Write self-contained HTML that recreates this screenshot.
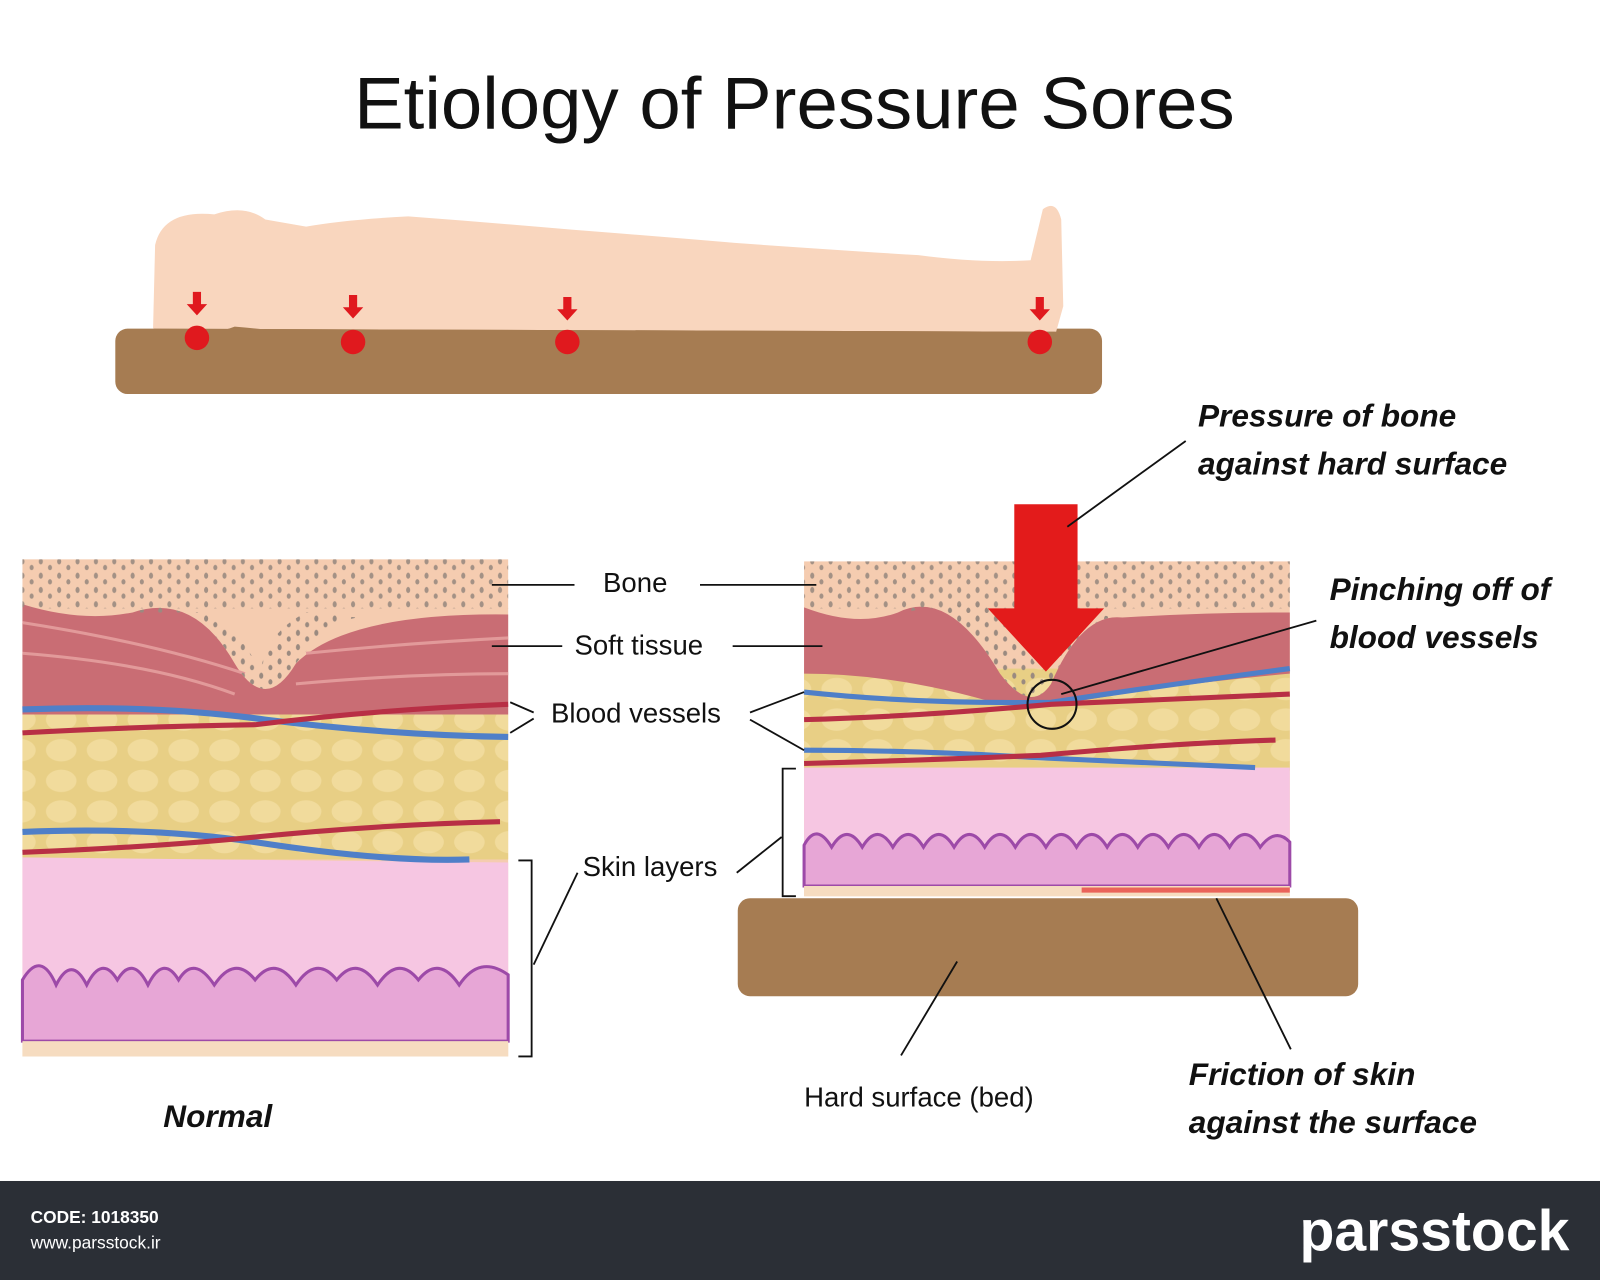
<!DOCTYPE html>
<html><head><meta charset="utf-8"><style>
html,body{margin:0;padding:0;background:#fff;}
svg{display:block;}
text{font-family:"Liberation Sans",sans-serif;}
</style></head><body>
<svg width="1600" height="1280" viewBox="0 0 1568 1254" preserveAspectRatio="none" xmlns="http://www.w3.org/2000/svg">
<defs>
<pattern id="dots" width="18" height="14" patternUnits="userSpaceOnUse">
<ellipse cx="4" cy="4" rx="2" ry="3" fill="#9a8a80"/><ellipse cx="13" cy="10" rx="2" ry="2.6" fill="#9a8a80"/>
</pattern>
<pattern id="fat" width="40" height="30" patternUnits="userSpaceOnUse">
<rect width="40" height="30" fill="#e8cf85"/><ellipse cx="20" cy="15" rx="15" ry="11" fill="#f1db9c"/>
</pattern>
</defs>
<rect width="1568" height="1254" fill="#fff"/>
<text x="347" y="126" font-size="72" textLength="863" lengthAdjust="spacingAndGlyphs" fill="#111">Etiology of Pressure Sores</text>

<!-- top figure -->
<rect x="113" y="322" width="967" height="64" rx="12" fill="#a67c52"/>
<path d="M150,322 L152,240 Q160,205 210,210 Q240,200 260,215 L300,222 Q340,215 400,212 Q480,218 560,225 Q650,232 720,238 Q820,245 900,250 Q960,258 1010,255 L1022,205 Q1035,195 1040,215 L1042,300 L1035,325 Z" fill="#f9d6be"/>
<path d="M150,322 Q190,335 230,320 Q300,326 346,335 Q450,322 556,335 Q800,320 1019,330 L1035,325 L150,322Z" fill="#a67c52"/>
<g fill="#e0191e">
<circle cx="193" cy="331" r="12"/><circle cx="346" cy="335" r="12"/><circle cx="556" cy="335" r="12"/><circle cx="1019" cy="335" r="12"/>
<path d="M189,286h8v12h6l-10,11-10-11h6z"/><path d="M342,289h8v12h6l-10,11-10-11h6z"/><path d="M552,291h8v12h6l-10,11-10-11h6z"/><path d="M1015,291h8v12h6l-10,11-10-11h6z"/>
</g>

<!-- left panel -->
<g>
<rect x="22" y="548" width="476" height="487" fill="#f5ccb0"/>
<rect x="22" y="700" width="476" height="142" fill="url(#fat)"/>
<path d="M22,592 Q80,610 130,600 Q190,580 230,650 Q260,700 290,650 Q340,600 498,602 L498,700 L22,700Z" fill="#c96d74"/>
<path d="M22,610 Q150,630 240,660 M22,640 Q150,650 230,680 M300,640 Q400,630 498,625 M290,670 Q400,660 498,660" stroke="#e29a9a" stroke-width="3" fill="none"/>
<rect x="22" y="548" width="476" height="48" fill="url(#dots)" opacity=".9"/>
<path d="M130,600 Q190,580 230,650 Q260,700 290,650 Q320,610 350,605 L300,600 Q260,620 255,660 Q240,620 200,600Z" fill="url(#dots)"/>
<path d="M22,840 L498,845 L498,1020 L22,1020Z" fill="#f6c6e2"/>
<path d="M22,960 Q40,930 55,965 Q70,935 85,965 Q100,935 115,960 Q130,935 145,965 Q160,935 175,960 Q190,935 210,965 Q230,935 250,960 Q270,935 290,965 Q310,935 330,960 Q350,935 370,965 Q390,935 410,960 Q430,935 450,965 Q470,935 498,955 L498,1020 L22,1020Z" fill="#e7a6d6" stroke="#9d4aa8" stroke-width="3"/>
<rect x="22" y="1020" width="476" height="15" fill="#f6dcc0"/>
<path d="M22,695 Q150,690 260,705 Q380,720 498,722" stroke="#4f7fc8" stroke-width="6" fill="none"/>
<path d="M22,718 Q130,712 250,710 Q370,695 498,690" stroke="#b82f45" stroke-width="5" fill="none"/>
<path d="M22,815 Q150,810 250,825 Q380,845 460,842" stroke="#4f7fc8" stroke-width="6" fill="none"/>
<path d="M22,835 Q150,830 250,820 Q370,808 490,805" stroke="#b82f45" stroke-width="5" fill="none"/>
</g>

<!-- right panel -->
<g>
<rect x="788" y="550" width="476" height="328" fill="#f5ccb0"/>
<rect x="788" y="655" width="476" height="100" fill="url(#fat)"/>
<path d="M788,595 Q840,615 880,600 Q930,575 980,660 Q1010,700 1030,670 Q1060,600 1100,605 Q1180,600 1264,600 L1264,660 Q1150,670 1040,690 L980,690 Q880,660 788,660Z" fill="#c96d74"/>
<rect x="788" y="550" width="476" height="46" fill="url(#dots)" opacity=".9"/>
<path d="M880,600 Q930,575 980,660 Q1010,700 1030,670 Q1060,600 1100,605 L1050,600 Q1030,640 1020,660 Q1000,620 960,590Z" fill="url(#dots)"/>
<rect x="788" y="752" width="476" height="116" fill="#f6c6e2"/>
<path d="M788,828 Q800,805 815,830 Q830,805 845,830 Q860,805 875,830 Q890,805 905,830 Q920,805 935,830 Q950,805 965,830 Q980,805 995,830 Q1010,805 1025,830 Q1040,805 1055,830 Q1070,805 1085,830 Q1100,805 1115,830 Q1130,805 1145,830 Q1160,805 1175,830 Q1190,805 1205,830 Q1220,805 1235,830 Q1250,810 1264,825 L1264,868 L788,868Z" fill="#e7a6d6" stroke="#9d4aa8" stroke-width="3"/>
<rect x="788" y="868" width="476" height="10" fill="#f6dcc0"/>
<path d="M1060,872 L1264,872" stroke="#e53030" stroke-width="5" opacity=".7"/>
<path d="M788,678 Q900,690 1030,688 Q1150,670 1264,655" stroke="#4f7fc8" stroke-width="5" fill="none"/>
<path d="M788,705 Q900,702 1030,690 Q1150,685 1264,680" stroke="#b82f45" stroke-width="5" fill="none"/>
<path d="M788,735 Q900,735 1010,742 Q1140,748 1230,752" stroke="#4f7fc8" stroke-width="5" fill="none"/>
<path d="M788,748 Q900,745 1020,740 Q1150,728 1250,725" stroke="#b82f45" stroke-width="5" fill="none"/>
<circle cx="1031" cy="690" r="24" fill="none" stroke="#111" stroke-width="2"/>
<path d="M994,494 h62 v102 h26 l-57,62 -57,-62 h26z" fill="#e31b1b"/>
</g>
<rect x="723" y="880" width="608" height="96" rx="12" fill="#a67c52"/>

<!-- labels & leaders -->
<g stroke="#111" stroke-width="1.8" fill="none">
<path d="M482,573H563M686,573H800"/>
<path d="M482,633H551M718,633H806"/>
<path d="M500,688L523,698M500,718L523,704M735,698L788,678M735,705L788,735"/>
<path d="M508,843H521V1035H508M523,945L566,855M722,855L766,820M780,753H767V878H780"/>
<path d="M1046,516L1162,432M1040,680L1290,608M883,1034L938,942M1265,1028L1192,880"/>
</g>
<g font-size="27" fill="#111">
<text x="591" y="580">Bone</text>
<text x="563" y="641">Soft tissue</text>
<text x="540" y="708">Blood vessels</text>
<text x="571" y="858">Skin layers</text>
<text x="788" y="1084">Hard surface (bed)</text>
</g>
<g font-size="31" font-weight="bold" font-style="italic" fill="#111">
<text x="1174" y="418">Pressure of bone</text>
<text x="1174" y="465">against hard surface</text>
<text x="1303" y="588">Pinching off of</text>
<text x="1303" y="635">blood vessels</text>
<text x="1165" y="1063">Friction of skin</text>
<text x="1165" y="1110">against the surface</text>
<text x="160" y="1104">Normal</text>
</g>

<!-- footer -->
<rect x="0" y="1157" width="1568" height="97" fill="#2b2f36"/>
<text x="30" y="1198" font-size="17" font-weight="bold" fill="#fff">CODE: 1018350</text>
<text x="30" y="1223" font-size="17" fill="#fff">www.parsstock.ir</text>
<text x="1538" y="1225" font-size="56" font-weight="bold" fill="#fff" text-anchor="end">parsstock</text>
</svg>
</body></html>
